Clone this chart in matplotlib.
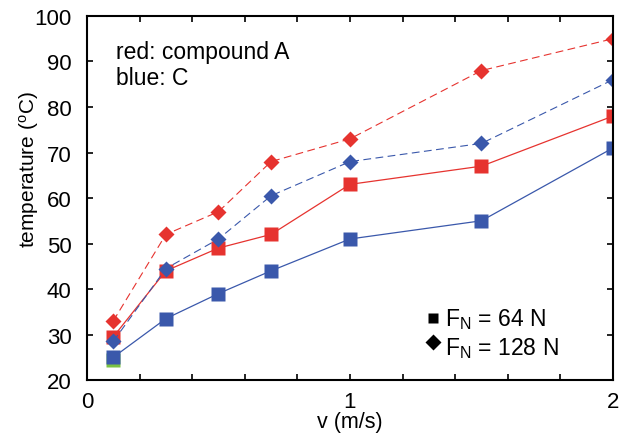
import matplotlib
matplotlib.use('Agg')
import matplotlib.pyplot as plt
from matplotlib.ticker import MultipleLocator

# sliding speed (m/s) and measured temperature (deg C)
v = [0.1, 0.3, 0.5, 0.7, 1.0, 1.5, 2.0]
red_64 = [29.5, 44, 49, 52, 63, 67, 78]
blue_64 = [25, 33.5, 39, 44, 51, 55, 71]
red_128 = [33, 52, 57, 68, 73, 88, 95]
blue_128 = [28.5, 44.5, 51, 60.5, 68, 72, 86]
green_v = [0.1]
green_64 = [24.3]

RED = '#e6332f'
BLUE = '#3a58ab'

plt.rcParams['font.family'] = ['Liberation Sans', 'DejaVu Sans']
plt.rcParams['mathtext.fontset'] = 'custom'
plt.rcParams['mathtext.rm'] = 'Liberation Sans'

fig = plt.figure(figsize=(6.28, 4.35), dpi=100)
ax = fig.add_axes([0.1385, 0.124, 0.8376, 0.837])

ax.plot(green_v, green_64, 's', color='#7ac143', ms=9.7, mec='none')
ax.plot(v, blue_64, '-s', color=BLUE, lw=0.9, ms=9.7, mec='none')
ax.plot(v, red_64, '-s', color=RED, lw=0.9, ms=9.7, mec='none')
ax.plot(v, blue_128, '--D', color=BLUE, lw=0.8, ms=8.5, mec='none', dashes=(7, 4))
ax.plot(v, red_128, '--D', color=RED, lw=0.8, ms=8.5, mec='none', dashes=(7, 4))

ax.set_xlim(0, 2)
ax.set_ylim(20, 100)
ax.xaxis.set_major_locator(MultipleLocator(1))
ax.xaxis.set_minor_locator(MultipleLocator(0.2))
ax.yaxis.set_major_locator(MultipleLocator(10))
ax.tick_params(which='both', direction='in', top=True, right=True,
               length=4, width=1.2, labelsize=16)
ax.tick_params(axis='y', pad=11)
ax.tick_params(axis='x', pad=8)
for s in ax.spines.values():
    s.set_linewidth(1.5)

ax.set_xlabel('v (m/s)', fontsize=15.5, va='top')
ax.xaxis.set_label_coords(0.5, -0.084)
ax.set_ylabel('temperature ($\\mathregular{^{o}}$C)', fontsize=15)
ax.yaxis.set_label_coords(-0.088, 0.58)

ax.text(0.110, 90.8, 'red: compound A', fontsize=16.5, va='baseline', ha='left')
ax.text(0.110, 85.1, 'blue: C', fontsize=16.5, va='baseline', ha='left')

ax.plot([1.316], [33.6], 's', color='black', ms=7.2, mec='none')
ax.plot([1.316], [28.4], 'D', color='black', ms=8.5, mec='none')
ax.text(1.361, 32.1, 'F$_{\\mathregular{N}}$ = 64 N', fontsize=16.5, va='baseline')
ax.text(1.361, 25.7, 'F$_{\\mathregular{N}}$ = 128 N', fontsize=16.5, va='baseline')

fig.savefig('out.png', dpi=100)
